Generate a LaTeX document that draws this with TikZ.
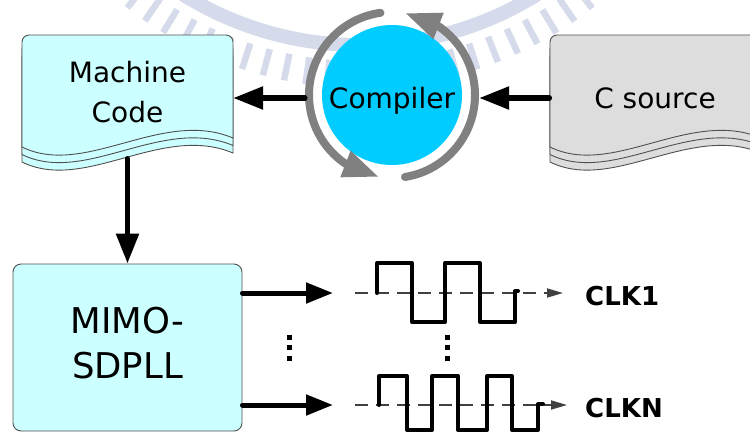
\documentclass[tikz,border=0pt]{standalone}
\usepackage{fontspec}
\setmainfont{DejaVu Sans}
\usetikzlibrary{arrows.meta,bending}

\definecolor{sheetcyan}{HTML}{CCFFFF}
\definecolor{sheetgray}{HTML}{DDDDDD}
\definecolor{compcyan}{HTML}{00CCFF}
\definecolor{ringgray}{HTML}{808080}
\definecolor{edgegray}{HTML}{505050}
\definecolor{dashgray}{HTML}{404040}
\definecolor{sealblue}{RGB}{213,219,235}

% one sheet of a stacked document: left x, top y, fill colour
\newcommand\sheetlayer[3]{%
  \draw[draw=edgegray, line width=0.9pt, fill=#3]
    (#1,#2-112) [rounded corners=7pt] -- (#1,#2) -- (#1+211,#2)
    [sharp corners] -- (#1+211,#2-103)
    .. controls (#1+140,#2-73) and (#1+63,#2-143) .. (#1,#2-112) -- cycle;}
% three stacked sheets
\newcommand\sheetstack[3]{%
  \sheetlayer{#1}{#2-15}{#3}%
  \sheetlayer{#1}{#2-7.5}{#3}%
  \sheetlayer{#1}{#2}{#3}}

\begin{document}
\begin{tikzpicture}[x=1pt, y=1pt,
  blk/.style={line width=5.5pt, line cap=round,
    -{Triangle[length=30pt,width=22pt]}},
  outarrow/.style={line width=5pt, line cap=round,
    -{Triangle[length=27pt,width=20pt]}},
  cycarrow/.style={draw=ringgray, line width=8pt, line cap=round,
    -{Triangle[length=36pt,width=26pt]}},
  dsh/.style={draw=dashgray, line width=1.8pt, dash pattern=on 13pt off 8pt,
    -{Triangle[length=16pt,width=9pt]}},
  wave/.style={line width=4pt, line join=round, line cap=round},
  big/.style={font=\fontsize{28}{40}\selectfont},
  clk/.style={font=\fontsize{26}{30}\selectfont\bfseries, anchor=west, inner sep=0pt}]

\useasboundingbox (0,0) rectangle (750,-432);

% faint seal in the background
\begin{scope}
  \clip (0,0) rectangle (750,-432);
  \draw[sealblue, line width=14pt] (360,290) circle (335);
  \foreach \a in {232,235.3,...,310}
    \draw[sealblue, line width=6.5pt, shift={(360,290)}] (\a:351) -- (\a:378);
\end{scope}

% source and machine code documents
\sheetstack{22}{-35}{sheetcyan}
\sheetstack{550}{-35}{sheetgray}
\node[big, align=center, minimum width=211pt, minimum height=112pt, inner sep=0pt]
  (mc) at (127.5,-92.5) {Machine\\Code};
\node[big, minimum width=211pt, inner sep=0pt] (cs) at (655,-98) {C source};

% compiler with its cycle arrows
\node[circle, inner sep=0pt, minimum size=174pt] (ring) at (392,-95) {};
\node[circle, fill=compcyan, inner sep=0pt, minimum size=140pt, big,
  text height=30pt, text depth=4pt] (comp) at (392,-95) {Compiler};
\draw[cycarrow] (392,-95) ++(98:83) arc[start angle=98, end angle=261, radius=83];
\draw[cycarrow] (392,-95) ++(279:83) arc[start angle=279, end angle=441, radius=83];

\draw[blk] (cs.west |- 0,-98) -- (ring.east |- 0,-98);
\draw[blk] (ring.west |- 0,-98) -- (mc.east |- 0,-98);

% MIMO-SDPLL block
\node[draw=edgegray, line width=0.9pt, fill=sheetcyan, rounded corners=8pt,
  minimum width=229pt, minimum height=167pt, align=center,
  font=\fontsize{35.5}{45}\selectfont] (mimo) at (127.5,-347.5)
  {MIMO-\\SDPLL\rule[-9pt]{0pt}{0pt}};
\draw[blk] ([yshift=-10pt]mc.south) -- (mimo.north);

% clock outputs
\coordinate (t1) at (333,-293);
\coordinate (tn) at (333,-405);
\coordinate (s1) at (355,-293);
\coordinate (sn) at (355,-405);
\coordinate (e1) at (563,-293);
\coordinate (en) at (567,-405);
\draw[outarrow] (mimo.east |- t1) -- (t1);
\draw[outarrow] (mimo.east |- tn) -- (tn);
\draw[dsh] (s1) -- (e1);
\draw[dsh] (sn) -- (en);

\draw[wave] (377,-293) -- (377,-263) -- (412,-263) -- (412,-322) -- (445,-322)
  -- (445,-263) -- (480,-263) -- (480,-322) -- (515,-322) -- (515,-291) -- (518,-291);
\draw[wave] (379,-405) -- (379,-376) -- (407,-376) -- (407,-430) -- (432,-430)
  -- (432,-376) -- (458,-376) -- (458,-430) -- (487,-430) -- (487,-376)
  -- (512,-376) -- (512,-430) -- (538,-430) -- (538,-404) -- (543,-404);

\node[clk] (clk1) at (585,-296.5) {CLK1};
\node[clk] (clkn) at (585,-408.5) {CLKN};

% vertical ellipses
\foreach \x in {289.5,447.5}
  \foreach \y in {337.5,347.5,358.5}
    \fill (\x-2.6,-\y-2.6) rectangle (\x+2.6,-\y+2.6);
\end{tikzpicture}
\end{document}
